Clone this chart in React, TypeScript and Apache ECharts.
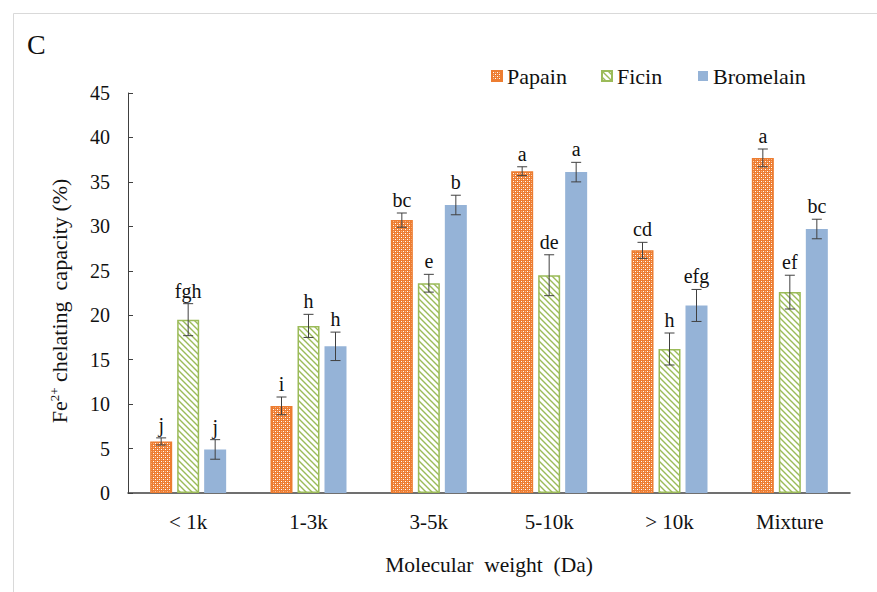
import React, { useEffect, useRef } from 'react';
import * as echarts from 'echarts';

const categories = ['< 1k', '1-3k', '3-5k', '5-10k', '> 10k', 'Mixture'];
const seriesNames = ['Papain', 'Ficin', 'Bromelain'];
const papain = [5.8, 9.8, 30.7, 36.2, 27.3, 37.7];
const papainErr = [0.4, 1.0, 0.8, 0.5, 0.9, 1.0];
const papainLetters = ['j', 'i', 'bc', 'a', 'cd', 'a'];
const ficin = [19.5, 18.8, 23.6, 24.5, 16.2, 22.6];
const ficinErr = [1.8, 1.3, 1.0, 2.3, 1.8, 1.9];
const ficinLetters = ['fgh', 'h', 'e', 'de', 'h', 'ef'];
const bromelain = [4.9, 16.5, 32.4, 36.1, 21.1, 29.7];
const bromelainErr = [1.1, 1.6, 1.1, 1.1, 1.8, 1.1];
const bromelainLetters = ['j', 'h', 'b', 'a', 'efg', 'bc'];
const yMin = 0;
const yMax = 45;
const yInterval = 5;

const FONT = 'Liberation Serif, Times New Roman, serif';
const ORANGE = '#ED7D31';
const GREEN = '#9BBB59';
const BLUE = '#95B3D7';
const BAR_W = 22;
const BAR_STEP = 27;

function makePapainPattern() {
  const c = document.createElement('canvas');
  c.width = 4; c.height = 4;
  const g = c.getContext('2d')!;
  g.fillStyle = ORANGE; g.fillRect(0, 0, 4, 4);
  g.fillStyle = '#ffffff';
  g.fillRect(1, 1, 1, 1);
  g.fillRect(3, 3, 1, 1);
  g.fillStyle = '#F6B487';
  g.fillRect(1, 3, 1, 1);
  g.fillRect(3, 1, 1, 1);
  return c.toDataURL();
}
function makeFicinPattern() {
  const c = document.createElement('canvas');
  c.width = 6; c.height = 6;
  const g = c.getContext('2d')!;
  g.fillStyle = '#ffffff'; g.fillRect(0, 0, 6, 6);
  g.strokeStyle = GREEN; g.lineWidth = 1.4;
  g.beginPath();
  g.moveTo(-1, -1); g.lineTo(7, 7);
  g.moveTo(-4, 2); g.lineTo(4, 10);
  g.moveTo(2, -4); g.lineTo(10, 4);
  g.stroke();
  return c.toDataURL();
}

export default function App() {
  const ref = useRef<HTMLDivElement>(null);
  useEffect(() => {
    if (!ref.current) return;
    const chart = echarts.init(ref.current, null, { renderer: 'svg' });
    const pP = { image: makePapainPattern(), repeat: 'repeat', imageWidth: 4, imageHeight: 4 };
    const pF = { image: makeFicinPattern(), repeat: 'repeat', imageWidth: 6, imageHeight: 6 };
    const values = [papain, ficin, bromelain];
    const errs = [papainErr, ficinErr, bromelainErr];
    const letters = [papainLetters, ficinLetters, bromelainLetters];
    const styles: any[] = [
      { color: pP, borderColor: ORANGE, borderWidth: 1.5 },
      { color: pF, borderColor: GREEN, borderWidth: 1.5 },
      { color: BLUE },
    ];
    const bars = seriesNames.map((n, i) => ({
      name: n,
      type: 'bar',
      data: values[i],
      barWidth: BAR_W,
      barGap: ((BAR_STEP - BAR_W) / BAR_W * 100).toFixed(1) + '%',
      itemStyle: styles[i],
      z: 2,
    }));
    const errSeries = seriesNames.map((n, i) => ({
      name: n + '_err',
      type: 'custom',
      z: 10,
      data: values[i].map((v, k) => [k, v, errs[i][k]]),
      renderItem: (params: any, api: any) => {
        const ci = api.value(0);
        const v = api.value(1);
        const e = api.value(2);
        const top = api.coord([ci, v + e]);
        const bot = api.coord([ci, v - e]);
        const x = top[0] + (i - 1) * BAR_STEP;
        const st = { stroke: '#404040', lineWidth: 1 };
        return {
          type: 'group',
          children: [
            { type: 'line', shape: { x1: x, y1: top[1], x2: x, y2: bot[1] }, style: st },
            { type: 'line', shape: { x1: x - 5, y1: top[1], x2: x + 5, y2: top[1] }, style: st },
            { type: 'line', shape: { x1: x - 5, y1: bot[1], x2: x + 5, y2: bot[1] }, style: st },
            {
              type: 'text',
              style: {
                text: letters[i][params.dataIndex], x, y: top[1] - 3,
                align: 'center', verticalAlign: 'bottom',
                fill: '#111', font: '20px ' + FONT,
              },
            },
          ],
        };
      },
    }));
    const legendBase = {
      top: 60, itemWidth: 10, itemHeight: 10, itemGap: 6, icon: 'rect',
      textStyle: { fontFamily: FONT, fontSize: 22, color: '#111' },
    };
    chart.setOption({
      animation: false,
      backgroundColor: '#fff',
      textStyle: { fontFamily: FONT },
      legend: [
        { ...legendBase, data: ['Papain'], left: 486 },
        { ...legendBase, data: ['Ficin'], left: 596 },
        { ...legendBase, data: ['Bromelain'], left: 693 },
      ],
      grid: { left: 128, right: 27, top: 93, bottom: 99 },
      xAxis: {
        type: 'category',
        data: categories,
        axisLine: { lineStyle: { color: '#404040', width: 1.5 } },
        axisTick: { show: false },
        axisLabel: { fontFamily: FONT, fontSize: 21, color: '#111', margin: 18 },
        name: 'Molecular  weight  (Da)',
        nameLocation: 'middle',
        nameGap: 61,
        nameTextStyle: { fontFamily: FONT, fontSize: 21.5, color: '#111' },
      },
      yAxis: {
        type: 'value',
        min: yMin, max: yMax, interval: yInterval,
        axisLine: { show: true, lineStyle: { color: '#404040', width: 1 } },
        axisTick: { show: true, inside: true, length: 5, lineStyle: { color: '#404040' } },
        splitLine: { show: false },
        axisLabel: { fontFamily: FONT, fontSize: 20, color: '#111', margin: 18 },
        name: '{n|Fe}{s|2+}{n| chelating  capacity (%)}',
        nameLocation: 'middle',
        nameRotate: 90,
        nameGap: 57,
        nameTextStyle: {
          fontFamily: FONT,
          padding: [0, 16, 0, 0],
          rich: {
            n: { fontFamily: FONT, fontSize: 22, color: '#111' },
            s: { fontFamily: FONT, fontSize: 13, color: '#111', padding: [0, 0, 10, 0] },
          },
        },
      },
      graphic: [
        { type: 'rect', left: 11, top: 11, shape: { width: 900, height: 620 }, style: { fill: 'none', stroke: '#D9D9D9', lineWidth: 1 }, silent: true },
        { type: 'text', left: 27, top: 30, style: { text: 'C', font: '28px ' + FONT, fill: '#111' } },
      ],
      series: [...bars, ...errSeries],
    });
    return () => chart.dispose();
  }, []);
  return <div ref={ref} style={{ position: 'fixed', left: 0, top: 0, width: 877, height: 592, background: '#fff' }} />;
}
